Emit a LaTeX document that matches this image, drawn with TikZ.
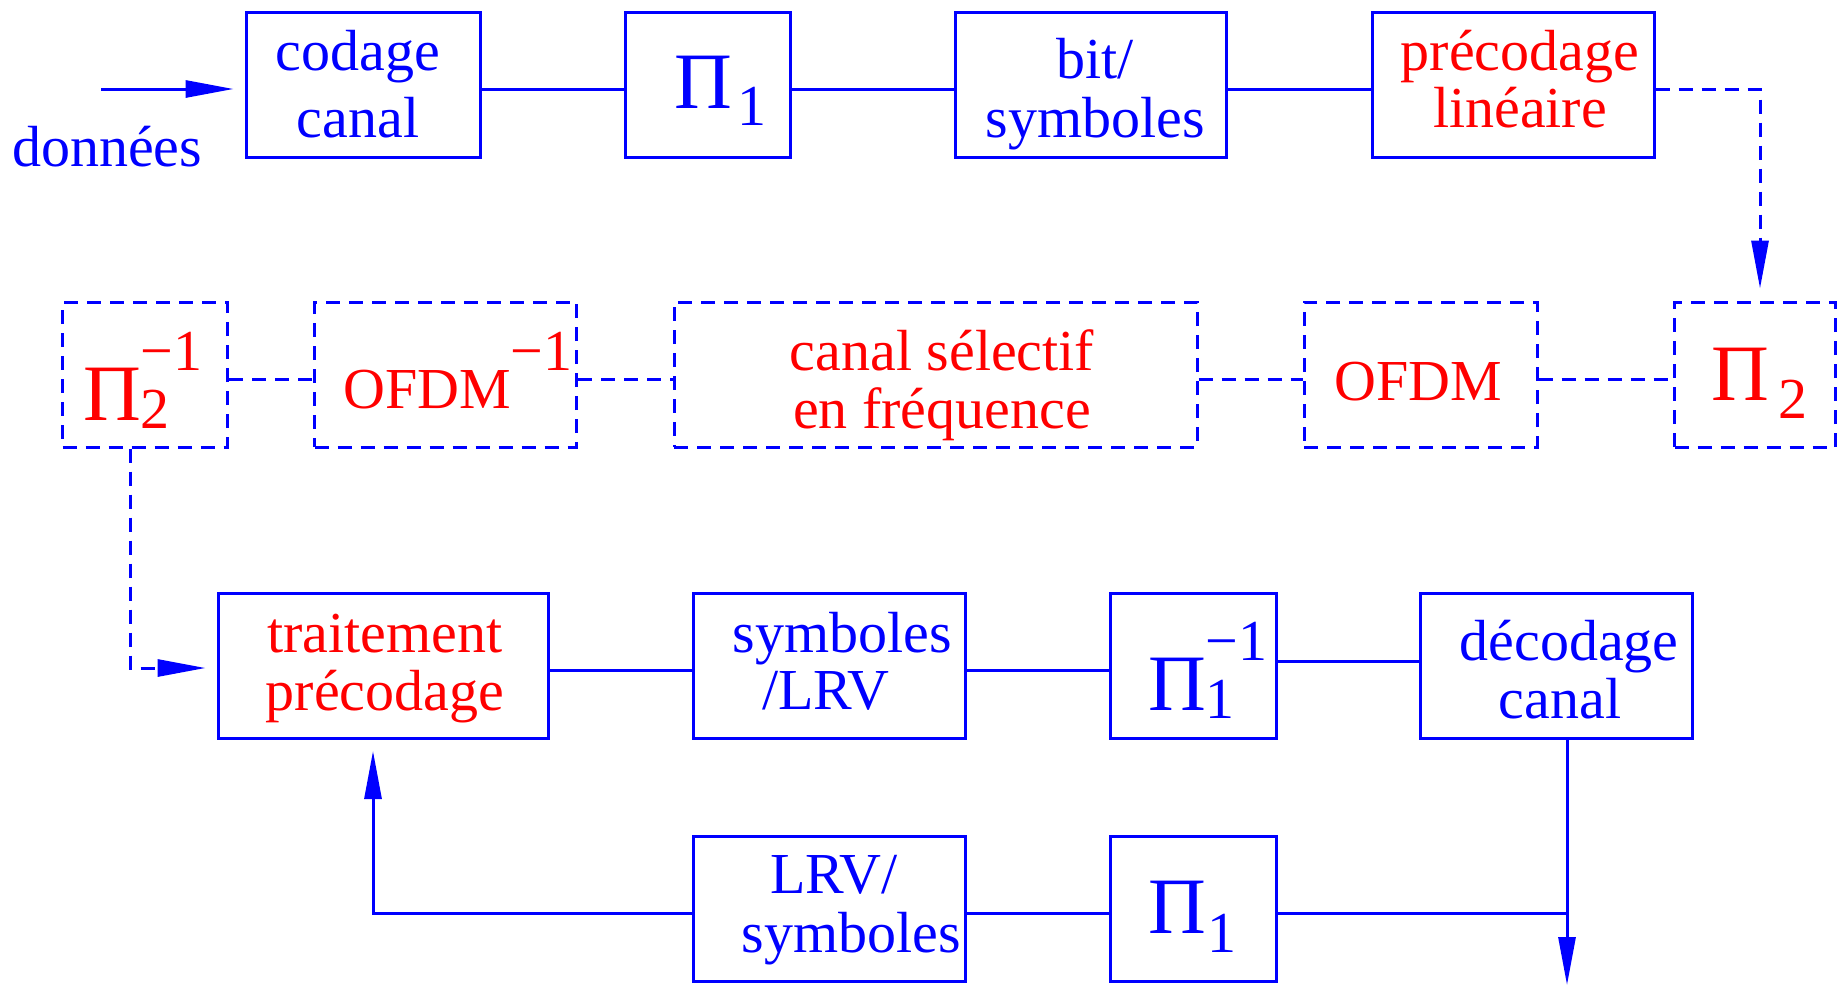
\documentclass[tikz,border=0pt]{standalone}
\usepackage{fontspec}
\setmainfont{Liberation Serif}
\usetikzlibrary{arrows.meta,calc}
\newcommand\bigpi{{\fontsize{80}{80}\selectfont Π}}
\newcommand\twol[2]{\begin{tabular}[t]{@{}c@{}}#1\\#2\end{tabular}}
\begin{document}
\begin{tikzpicture}[x=1pt,y=-1pt,
  box/.style={draw=blue, line width=3pt, inner sep=0pt, minimum height=145pt},
  dbox/.style={box, dash pattern=on 14pt off 9pt},
  wire/.style={draw=blue, line width=3pt},
  dwire/.style={wire, dash pattern=on 14pt off 9pt},
  arr/.style={-{Triangle[length=48pt,width=17pt]}},
  txt/.style={inner sep=0pt, anchor=base, font=\fontsize{58}{58}\selectfont},
  btxt/.style={txt, text=blue},
  rtxt/.style={txt, text=red}]
\useasboundingbox (0,0) rectangle (1838,985);
% row 1
\node[box, minimum width=234pt] (cod) at (363,84.5) {};
\node[box, minimum width=165pt] (pia) at (707.5,84.5) {};
\node[box, minimum width=271pt] (bits) at (1090.5,84.5) {};
\node[box, minimum width=282pt] (prec) at (1513,84.5) {};
% row 2
\node[dbox, minimum width=165pt] (p2i) at (145,374.5) {};
\node[dbox, minimum width=262pt] (ofdmi) at (445.7,374.5) {};
\node[dbox, minimum width=523pt] (chan) at (935.5,374.5) {};
\node[dbox, minimum width=233pt] (ofdm) at (1420.5,374.5) {};
\node[dbox, minimum width=161pt] (p2) at (1755,374.5) {};
% row 3
\node[box, minimum width=330pt] (trt) at (383,666) {};
\node[box, minimum width=272pt] (slrv) at (829,666) {};
\node[box, minimum width=166pt] (pii) at (1193,666) {};
\node[box, minimum width=272pt] (dec) at (1556,666) {};
% row 4
\node[box, minimum width=272pt] (lrv) at (829,909) {};
\node[box, minimum width=166pt] (pib) at (1193,909) {};
% texts
\node[btxt, anchor=base west] (tdon) at (12,166) {données};
\node[btxt, font=\fontsize{58}{67}\selectfont] (tcod) at (358,70) {\twol{codage}{canal}};
\node[btxt, anchor=base west] (tpia) at (674,108) {\bigpi\kern6pt\raisebox{-17pt}{1}};
\node[btxt, font=\fontsize{58}{59}\selectfont] (tbits) at (1095,78) {\twol{bit/}{symboles}};
\node[rtxt, font=\fontsize{58}{57}\selectfont] (tprec) at (1520,70) {\twol{précodage}{linéaire}};
\node[rtxt, anchor=base west] (tp2i) at (83,420) {\bigpi\rlap{\raisebox{-8pt}{2}}\raisebox{50pt}{−1}};
\node[rtxt, anchor=base west] (tofdmi) at (343,408) {OFDM\raisebox{38pt}{−1}};
\node[rtxt] (tchan) at (942,370) {\twol{canal sélectif}{en fréquence}};
\node[rtxt] (tofdm) at (1418,400) {OFDM};
\node[rtxt, anchor=base west] (tp2) at (1711,400) {\bigpi\kern10pt\raisebox{-18pt}{2}};
\node[rtxt] (ttrt) at (385,652) {\twol{traitement}{précodage}};
\node[btxt] (tslrva) at (842,652) {symboles};
\node[btxt] (tslrvb) at (826,709) {/LRV};
\node[btxt, anchor=base west] (tpii) at (1148,710) {\bigpi\rlap{\raisebox{-8pt}{1}}\raisebox{50pt}{−1}};
\node[btxt] (tdeca) at (1569,660) {décodage};
\node[btxt] (tdecb) at (1560,718) {canal};
\node[btxt] (tlrva) at (834,893) {LRV/};
\node[btxt] (tlrvb) at (851,952) {symboles};
\node[btxt, anchor=base west] (tpib) at (1148,933) {\bigpi\kern2pt\raisebox{-19pt}{1}};
% coordinates
\coordinate (in) at (101,89);
\coordinate (out) at (1567,985);
\coordinate (junc) at (1567,913);
% connectors row 1
\draw[wire, arr, shorten >=11pt] (in) -- ([yshift=-4.5pt]cod.west);
\draw[wire] ([yshift=-4.5pt]cod.east) -- ([yshift=-4.5pt]pia.west);
\draw[wire] ([yshift=-4.5pt]pia.east) -- ([yshift=-4.5pt]bits.west);
\draw[wire] ([yshift=-4.5pt]bits.east) -- ([yshift=-4.5pt]prec.west);
\draw[dwire, arr, shorten >=12pt] ([yshift=-4.5pt]prec.east) -| ([xshift=5pt]p2.north);
% row 2
\draw[dwire] ([yshift=-4.5pt]p2i.east) -- ([yshift=-4.5pt]ofdmi.west);
\draw[dwire] ([yshift=-4.5pt]ofdmi.east) -- ([yshift=-4.5pt]chan.west);
\draw[dwire] ([yshift=-4.5pt]chan.east) -- ([yshift=-4.5pt]ofdm.west);
\draw[dwire] ([yshift=-4.5pt]ofdm.east) -- ([yshift=-4.5pt]p2.west);
\draw[dwire, arr, shorten >=11pt] ([xshift=-15pt]p2i.south) |- ([yshift=-2pt]trt.west);
% row 3
\draw[wire] ([yshift=-4pt]trt.east) -- ([yshift=-4pt]slrv.west);
\draw[wire] ([yshift=-4pt]slrv.east) -- ([yshift=-4pt]pii.west);
\draw[wire] ([yshift=5pt]pii.east) -- ([yshift=5pt]dec.west);
\draw[wire, arr] ([xshift=11pt]dec.south) -- (out);
% row 4
\draw[wire] ([yshift=-4pt]lrv.east) -- ([yshift=-4pt]pib.west);
\draw[wire] ([yshift=-4pt]pib.east) -- (junc);
\draw[wire, arr, shorten >=11pt] ([yshift=-4pt]lrv.west) -| ([xshift=-10pt]trt.south);
\end{tikzpicture}
\end{document}
